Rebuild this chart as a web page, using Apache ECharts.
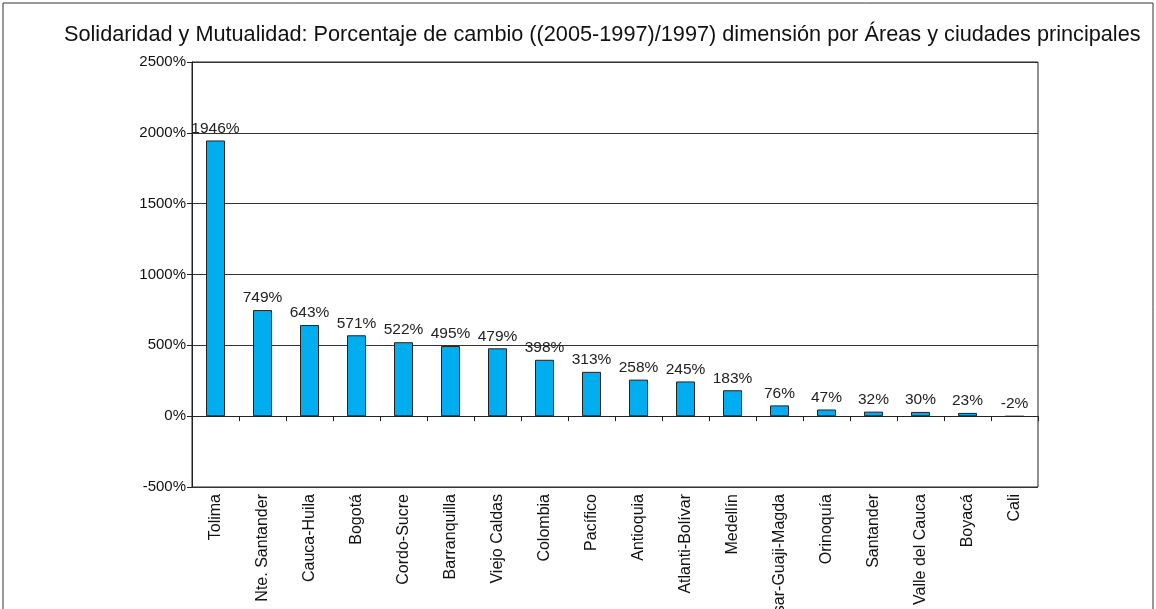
<!DOCTYPE html>
<html>
<head>
<meta charset="utf-8">
<script src="https://cdn.jsdelivr.net/npm/echarts@6/dist/echarts.min.js"></script>
<style>
  html, body { margin: 0; padding: 0; background: #fff; }
  #chart { width: 1156px; height: 609px; }
</style>
</head>
<body>
<div id="chart"></div>
<script>
// categorias y valores (% de cambio 1997-2005)
const areas = ['Tolima', 'Nte. Santander', 'Cauca-Huila', 'Bogotá', 'Cordo-Sucre', 'Barranquilla',
    'Viejo Caldas', 'Colombia', 'Pacífico', 'Antioquia', 'Atlanti-Bolívar', 'Medellín',
    'Cesar-Guaji-Magda', 'Orinoquía', 'Santander', 'Valle del Cauca', 'Boyacá', 'Cali'];
const cambio = [1946, 749, 643, 571, 522, 495, 479, 398, 313, 258, 245, 183, 76, 47, 32, 30, 23, -2];

const yMin = -500, yMax = 2500, yStep = 500;
const fontFam = '"Liberation Sans", Arial, sans-serif';

const chart = echarts.init(document.getElementById('chart'));

option = {
    backgroundColor: '#fff',
    animation: false,
    title: {
        text: 'Solidaridad y Mutualidad: Porcentaje de cambio ((2005-1997)/1997) dimensión por Áreas y ciudades principales',
        left: 59,
        top: 19,
        textStyle: { fontFamily: fontFam, fontSize: 21.7, fontWeight: 'normal', color: '#111' }
    },
    graphic: [{
        type: 'rect',
        shape: { x: 3, y: 3, width: 1150, height: 610 },
        style: { fill: 'none', stroke: '#333', lineWidth: 1 },
        silent: true
    }],
    grid: {
        left: 192,
        right: 118,
        top: 62,
        bottom: 122,
        outerBoundsMode: 'none',
        containLabel: false,
        show: true,
        borderColor: '#222',
        borderWidth: 1
    },
    xAxis: {
        type: 'category',
        data: areas,
        axisLine: { onZero: true, lineStyle: { color: '#222' } },
        axisTick: { show: true, alignWithLabel: false, length: 5, lineStyle: { color: '#222' } },
        axisLabel: {
            interval: 0,
            rotate: 90,
            margin: 7,
            fontFamily: fontFam,
            fontSize: 16,
            color: '#111'
        }
    },
    yAxis: {
        type: 'value',
        min: yMin,
        max: yMax,
        interval: yStep,
        axisLine: { show: true, lineStyle: { color: '#222' } },
        axisTick: { show: true, length: 5, lineStyle: { color: '#222' } },
        axisLabel: {
            formatter: v => v + '%',
            fontFamily: fontFam,
            fontSize: 15,
            color: '#111',
            margin: 6
        },
        splitLine: { show: true, lineStyle: { color: '#333', width: 1 } }
    },
    series: [{
        type: 'bar',
        data: cambio,
        barWidth: 19,
        itemStyle: { color: '#00AEEF', borderColor: '#222', borderWidth: 1 },
        label: {
            show: true,
            position: 'top',
            formatter: '{c}%',
            fontFamily: fontFam,
            fontSize: 15.5,
            color: '#222',
            distance: 4
        }
    }]
};

chart.setOption(option);
</script>
</body>
</html>
